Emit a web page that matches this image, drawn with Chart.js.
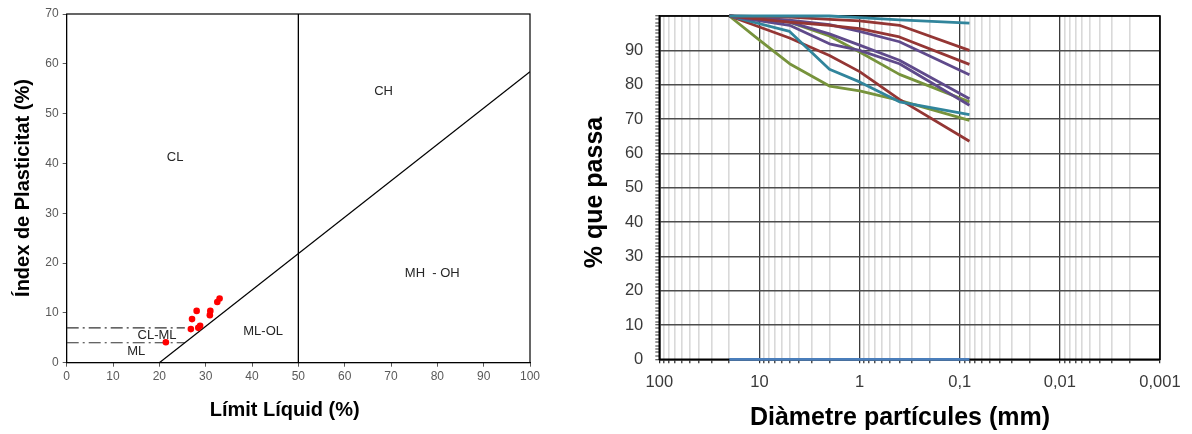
<!DOCTYPE html>
<html><head><meta charset="utf-8">
<script src="https://cdn.jsdelivr.net/npm/chart.js@4.4.1/dist/chart.umd.min.js"></script>
<style>
html,body{margin:0;padding:0;background:#fff;width:1192px;height:434px;overflow:hidden}
#c1{position:absolute;left:0;top:0}
#c2{position:absolute;left:560px;top:0}
</style></head><body>
<canvas id="c1" width="560" height="434"></canvas>
<canvas id="c2" width="632" height="434"></canvas>
<script>
// ---------- Left chart data (plasticity chart) ----------
const liquidLimit     = [21.4, 26.8, 27.05, 28.05, 28.4, 28.8, 30.9, 31.0, 32.5, 33.0];
const plasticityIndex = [4.1, 6.75, 8.75, 10.4, 7.0, 7.4, 9.55, 10.4, 12.2, 12.9];
const aLineLL = [20, 100];
const aLinePI = [0, 58.4];
const llBoundLL = [50, 50];
const llBoundPI = [0, 70];
const clmlUpperLL = [0, 25.5];
const clmlUpperPI = [7, 7];
const clmlLowerLL = [0, 25.5];
const clmlLowerPI = [4, 4];
const zoneLabels  = ['CL', 'CH', 'MH  - OH', 'ML-OL', 'CL-ML', 'ML'];
const zoneLabelLL = [23.4, 68.4, 78.9, 42.4, 19.5, 15.0];
const zoneLabelPI = [41.3, 54.4, 18.0, 6.2, 5.4, 2.2];
const llTicks = [0, 10, 20, 30, 40, 50, 60, 70, 80, 90, 100];
const piTicks = [0, 10, 20, 30, 40, 50, 60, 70];
const leftXTitle = 'Límit Líquid (%)';
const leftYTitle = 'Índex de Plasticitat (%)';

// ---------- Right chart data (grading curves) ----------
const sieveMm = [20, 10, 5, 2, 1, 0.4, 0.08];
const sampleTealTop  = [100, null, 100, 100, 99.5, 98.9, 97.9];
const sampleRed1     = [100, null, 99.7, 99.0, 98.6, 97.3, 90.0];
const sampleRed2     = [100, null, 98.2, 97.3, 96.3, 93.9, 85.9];
const samplePurpleC  = [100, null, 98.8, 97.5, 95.5, 92.5, 82.9];
const samplePurpleA  = [100, null, 98.2, 94.8, 91.5, 87.1, 75.9];
const samplePurpleB  = [100, null, 97.3, 91.9, 90.0, 86.1, 74.0];
const sampleGreenMid = [100, null, 98.2, 94.2, 89.5, 83.0, 75.0];
const sampleTealLow  = [100, null, 95.5, 84.5, 80.8, 75.0, 71.3];
const sampleRedLow   = [100, null, 93.6, 88.5, 83.8, 75.7, 63.5];
const sampleGreenLow = [100, 93.0, 86.1, 79.6, 78.2, 75.4, 69.6];
const sampleBlank    = [0, null, 0, 0, 0, 0, 0];
const sizeTickValues = [100, 10, 1, 0.1, 0.01, 0.001];
const sizeTickLabels = ['100', '10', '1', '0,1', '0,01', '0,001'];
const passTickValues = [0, 10, 20, 30, 40, 50, 60, 70, 80, 90];
const rightXTitle = 'Diàmetre partícules (mm)';
const rightYTitle = '% que passa';

const FONT = '"Liberation Sans", Arial, Helvetica, sans-serif';
const RED = '#943634', PURPLE = '#5f4a8b', GREEN = '#77933c', TEAL = '#31859c', BLUE = '#4a7ebb';

function pairs(xs, ys) {
  const out = [];
  xs.forEach((x, i) => { if (ys[i] !== null && ys[i] !== undefined) out.push({x: x, y: ys[i]}); });
  return out;
}
function noPad(s) { s.paddingTop = 0; s.paddingBottom = 0; s.paddingLeft = 0; s.paddingRight = 0; }

const framePlugin = (w, col) => ({
  id: 'frame',
  beforeDatasetsDraw(chart) {
    const a = chart.chartArea, ctx = chart.ctx;
    ctx.save(); ctx.strokeStyle = col; ctx.lineWidth = w;
    ctx.strokeRect(a.left, a.top, a.right - a.left, a.bottom - a.top);
    ctx.restore();
  }
});

// ---------- Left chart ----------
const leftText = {
  id: 'leftText',
  afterDraw(chart) {
    const ctx = chart.ctx, xs = chart.scales.x, ys = chart.scales.y;
    ctx.save();
    ctx.fillStyle = '#262626';
    ctx.font = '13px ' + FONT;
    ctx.textAlign = 'center'; ctx.textBaseline = 'middle';
    zoneLabels.forEach((t, i) => ctx.fillText(t, xs.getPixelForValue(zoneLabelLL[i]), ys.getPixelForValue(zoneLabelPI[i])));
    ctx.fillStyle = '#000';
    ctx.font = 'bold 20px ' + FONT;
    ctx.textBaseline = 'alphabetic';
    ctx.fillText(leftXTitle, 284.7, 416);
    ctx.translate(28.5, 188); ctx.rotate(-Math.PI / 2);
    ctx.fillText(leftYTitle, 0, 0);
    ctx.restore();
  }
};

new Chart(document.getElementById('c1'), {
  type: 'scatter',
  data: {
    datasets: [
      {data: pairs(liquidLimit, plasticityIndex), pointRadius: 3.3, pointBackgroundColor: '#ff0000', pointBorderWidth: 0, showLine: false},
      {data: pairs(aLineLL, aLinePI), showLine: true, borderColor: '#000', borderWidth: 1.3, pointRadius: 0},
      {data: pairs(llBoundLL, llBoundPI), showLine: true, borderColor: '#000', borderWidth: 1.3, pointRadius: 0},
      {data: pairs(clmlUpperLL, clmlUpperPI), showLine: true, borderColor: '#333', borderWidth: 1.1, borderDash: [12, 4, 2, 4], pointRadius: 0},
      {data: pairs(clmlLowerLL, clmlLowerPI), showLine: true, borderColor: '#333', borderWidth: 1.1, borderDash: [12, 4, 2, 4], pointRadius: 0}
    ]
  },
  options: {
    responsive: false, animation: false, events: [],
    layout: {padding: {left: 0, right: 30, top: 14, bottom: 0}},
    plugins: {legend: {display: false}, tooltip: {enabled: false}},
    scales: {
      x: {
        type: 'linear', min: 0, max: 100,
        afterBuildTicks: s => { s.ticks = llTicks.map(v => ({value: v})); },
        afterFit: s => { s.height = 71.3; noPad(s); },
        grid: {drawOnChartArea: false, tickLength: 4, color: '#595959'},
        border: {color: '#000', width: 1},
        ticks: {color: '#595959', font: {size: 12, family: FONT}, padding: 3, maxRotation: 0, autoSkip: false}
      },
      y: {
        type: 'linear', min: 0, max: 70,
        afterBuildTicks: s => { s.ticks = piTicks.map(v => ({value: v})); },
        afterFit: s => { s.width = 66.7; noPad(s); },
        grid: {drawOnChartArea: false, tickLength: 4, color: '#595959'},
        border: {color: '#000', width: 1},
        ticks: {color: '#595959', font: {size: 12, family: FONT}, padding: 4, autoSkip: false}
      }
    }
  },
  plugins: [framePlugin(1.2, '#000'), leftText]
});

// ---------- Right chart ----------
const rightText = {
  id: 'rightText',
  afterDraw(chart) {
    const ctx = chart.ctx;
    ctx.save();
    ctx.fillStyle = '#000';
    ctx.font = 'bold 25px ' + FONT;
    ctx.textAlign = 'center'; ctx.textBaseline = 'alphabetic';
    ctx.fillText(rightXTitle, 340, 425);
    ctx.translate(41.5, 192.5); ctx.rotate(-Math.PI / 2);
    ctx.fillText(rightYTitle, 0, 0);
    ctx.restore();
  }
};

function isDecade(v) {
  const l = Math.log10(v);
  return Math.abs(l - Math.round(l)) < 1e-9;
}
const logTicks = [];
for (let e = -3; e <= 2; e++) {
  for (let m = 1; m <= 9; m++) {
    const v = m * Math.pow(10, e);
    if (v <= 100.0000001) logTicks.push(+v.toPrecision(6));
  }
}
const linTicks = [];
for (let v = 0; v <= 100; v++) linTicks.push(v);

const series = [
  {vals: sampleTealTop, col: TEAL},
  {vals: sampleRed1, col: RED},
  {vals: sampleRed2, col: RED},
  {vals: samplePurpleC, col: PURPLE},
  {vals: samplePurpleA, col: PURPLE},
  {vals: samplePurpleB, col: PURPLE},
  {vals: sampleGreenMid, col: GREEN},
  {vals: sampleTealLow, col: TEAL},
  {vals: sampleRedLow, col: RED},
  {vals: sampleGreenLow, col: GREEN},
  {vals: sampleBlank, col: BLUE}
];

new Chart(document.getElementById('c2'), {
  type: 'scatter',
  data: {
    datasets: series.map(s => ({
      data: pairs(sieveMm, s.vals), showLine: true, borderColor: s.col, borderWidth: 2.8,
      pointRadius: 0, tension: 0, clip: 6, borderJoinStyle: 'round'
    }))
  },
  options: {
    responsive: false, animation: false, events: [],
    layout: {padding: {left: 0, right: 32, top: 16, bottom: 0}},
    plugins: {legend: {display: false}, tooltip: {enabled: false}},
    scales: {
      x: {
        type: 'logarithmic', min: 0.001, max: 100, reverse: true,
        afterBuildTicks: s => { s.ticks = logTicks.map(v => ({value: v, major: isDecade(v)})); },
        afterFit: s => { s.height = 74.7; noPad(s); },
        grid: {
          color: c => (c.tick && isDecade(c.tick.value)) ? '#3a3a3a' : '#d9d9d9',
          lineWidth: c => (c.tick && isDecade(c.tick.value)) ? 1.3 : 1.6,
          tickColor: '#222', tickWidth: 1.2, tickLength: 4
        },
        border: {color: '#000', width: 1.6},
        ticks: {
          color: '#3a3a3a', font: {size: 16.5, family: FONT}, padding: 9, maxRotation: 0, autoSkip: false,
          callback: v => {
            const i = sizeTickValues.findIndex(t => Math.abs(Math.log10(t) - Math.log10(v)) < 1e-6);
            return i >= 0 ? sizeTickLabels[i] : '';
          }
        }
      },
      y: {
        type: 'linear', min: 0, max: 100,
        afterBuildTicks: s => { s.ticks = linTicks.map(v => ({value: v})); },
        afterFit: s => { s.width = 99.3; noPad(s); },
        grid: {
          color: c => (c.tick && c.tick.value % 10 === 0) ? '#4d4d4d' : 'rgba(0,0,0,0)',
          lineWidth: c => (c.tick && c.tick.value % 10 === 0) ? 1.5 : 0,
          tickColor: '#333', tickWidth: 1, tickLength: 4
        },
        border: {color: '#000', width: 1.6},
        ticks: {
          color: '#3a3a3a', font: {size: 16.5, family: FONT}, padding: 12, autoSkip: false,
          callback: v => passTickValues.includes(v) ? String(v) : ''
        }
      }
    }
  },
  plugins: [framePlugin(1.6, '#000'), rightText]
});
</script>
</body></html>
